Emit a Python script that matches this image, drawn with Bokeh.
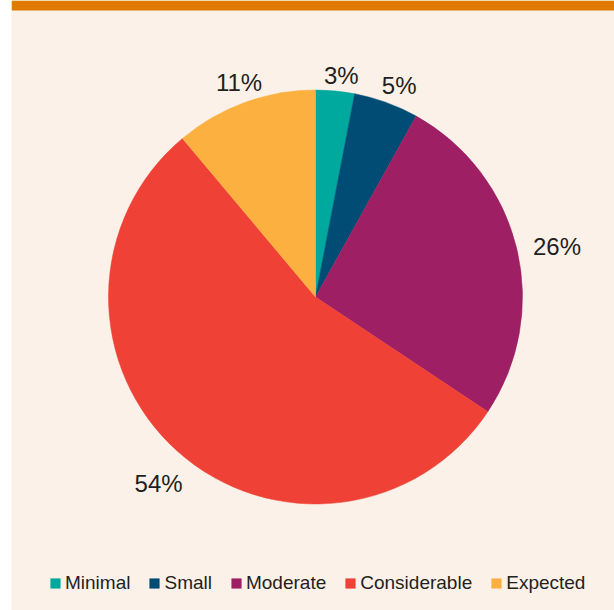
import numpy as np
from bokeh.plotting import figure, ColumnDataSource
from bokeh.models import Range1d, BoxAnnotation, Legend, LegendItem
from bokeh.core.properties import value
from bokeh.embed import file_html
from bokeh.resources import INLINE

# ---- data ----
categories = ["Minimal", "Small", "Moderate", "Considerable", "Expected"]
percents = [3, 5, 26, 54, 11]
colors = ["#00A99D", "#004C75", "#9E1F63", "#EF4136", "#FBB040"]

# ---- styles / layout ----
BG = "#FBF1E8"
BAR = "#E07A00"
TXT = "#231F20"
FONT = "Liberation Sans"
W, H = 603, 610
CX, CY, R = 315, 313.5, 207   # pie centre / radius (pixel-like data units)

vals = np.array(percents, dtype=float)
frac = vals / vals.sum()
cum = np.concatenate([[0], np.cumsum(frac)])
start = np.pi / 2 - 2 * np.pi * cum[:-1]
end = np.pi / 2 - 2 * np.pi * cum[1:]
mid_clock = 2 * np.pi * (cum[:-1] + cum[1:]) / 2  # angle clockwise from 12 o'clock

labels = [f"{v}%" for v in percents]
fs = 24
tw = np.array([(0.556 * (len(s) - 1) + 0.889) * fs for s in labels])
th = 17.0
pad = 12
rl = R + pad + np.abs(np.sin(mid_clock)) * tw / 2 + np.abs(np.cos(mid_clock)) * th / 2
lx = CX + rl * np.sin(mid_clock)
ly = CY + rl * np.cos(mid_clock)

src = ColumnDataSource(dict(cat=categories, start=start, end=end, color=colors,
                            lx=lx, ly=ly, lab=labels))

p = figure(width=W, height=H, output_backend="svg", toolbar_location=None,
           x_range=Range1d(11, 11 + W), y_range=Range1d(0, H),
           min_border=0, margin=(0, 0, 0, 11))
p.axis.visible = False
p.grid.visible = False
p.outline_line_color = None
p.background_fill_color = BG
p.border_fill_color = BG

p.add_layout(BoxAnnotation(bottom=H - 10, fill_color=BAR, fill_alpha=1.0, line_color=None))

r = p.wedge(x=CX, y=CY, radius=R, start_angle="start", end_angle="end",
            direction="clock", fill_color="color", line_color="color", line_width=0.5,
            source=src)

p.text(x="lx", y="ly", text="lab", source=src, text_align="center",
       text_baseline="middle", text_font=value(FONT), text_font_size=f"{fs}px",
       text_color=TXT, x_offset=4, y_offset=7)

items = [LegendItem(label=c, renderers=[r], index=i) for i, c in enumerate(categories)]
legend = Legend(items=items, orientation="horizontal", location=(38, 16),
                glyph_width=12, glyph_height=12, label_standoff=4, spacing=18,
                padding=0, margin=0, background_fill_alpha=0, border_line_color=None,
                label_text_font=FONT, label_text_font_size="19px",
                label_text_color=TXT, label_height=12)
p.add_layout(legend)

open("out.html", "w").write(file_html(p, INLINE))
